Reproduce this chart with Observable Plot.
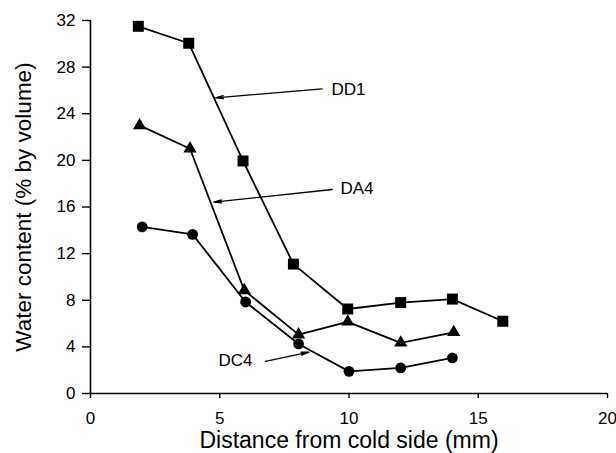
<!DOCTYPE html>
<html>
<head>
<meta charset="utf-8">
<script src="https://cdn.jsdelivr.net/npm/d3@7"></script>
<script src="https://cdn.jsdelivr.net/npm/@observablehq/plot@0.6"></script>
<style>
  html, body { margin: 0; padding: 0; background: #fff; }
  #chart { width: 616px; height: 453px; }
</style>
</head>
<body>
<div id="chart"></div>
<script>
// ---- data ----
const xTicks = [0, 5, 10, 15, 20];
const yTicks = [0, 4, 8, 12, 16, 20, 24, 28, 32];

const dd1X = [1.85, 3.8, 5.9, 7.85, 9.95, 12.0, 14.0, 15.95];
const dd1Y = [31.5, 30.05, 19.95, 11.1, 7.25, 7.8, 8.1, 6.2];

const da4X = [1.9, 3.85, 5.95, 8.05, 9.95, 12.0, 14.05];
const da4Y = [23.0, 21.0, 8.85, 5.05, 6.15, 4.35, 5.25];

const dc4X = [2.0, 3.95, 6.0, 8.05, 10.0, 12.0, 14.0];
const dc4Y = [14.3, 13.65, 7.85, 4.25, 1.9, 2.2, 3.05];

const labels = ["DD1", "DA4", "DC4"];
const labelX = [9.32, 9.67, 6.27];
const labelY = [26.07, 17.58, 2.83];
const labelAnchor = ["start", "start", "end"];
const arrowX1 = [8.96, 9.35, 6.77];
const arrowY1 = [26.14, 17.5, 2.75];
const arrowX2 = [4.84, 4.77, 8.45];
const arrowY2 = [25.37, 16.41, 3.55];

const xLabel = "Distance from cold side (mm)";
const yLabel = "Water content (% by volume)";

// ---- tables built from the arrays ----
const toRows = (xs, ys, s) => xs.map((x, i) => ({x, y: ys[i], series: s}));
const dd1 = toRows(dd1X, dd1Y, "DD1");
const da4 = toRows(da4X, da4Y, "DA4");
const dc4 = toRows(dc4X, dc4Y, "DC4");
const notes = labels.map((t, i) => ({
  t, x: labelX[i], y: labelY[i], anchor: labelAnchor[i],
  x1: arrowX1[i], y1: arrowY1[i], x2: arrowX2[i], y2: arrowY2[i]
}));

const font = "'Liberation Sans', Arial, Helvetica, sans-serif";

const chart = Plot.plot({
  width: 616,
  height: 453,
  marginLeft: 90,
  marginRight: 9,
  marginTop: 20,
  marginBottom: 60,
  style: { fontFamily: font, fontSize: "17px", color: "black", background: "white" },
  x: { domain: [0, 20] },
  y: { domain: [0, 32] },
  marks: [
    Plot.axisX({ ticks: xTicks, tickSize: 5, tickPadding: 13, fontSize: 17, label: null, strokeWidth: 1.4 }),
    Plot.axisY({ ticks: yTicks, tickSize: 8, tickPadding: 7, fontSize: 17, label: null, strokeWidth: 1.4 }),
    Plot.ruleY([0], { stroke: "black", strokeWidth: 1.6 }),
    Plot.ruleX([0], { stroke: "black", strokeWidth: 1.6 }),
    Plot.text([xLabel], { frameAnchor: "bottom", dy: 47, fontSize: 23, fill: "black", textAnchor: "middle", lineAnchor: "middle" }),
    Plot.text([yLabel], { frameAnchor: "left", dx: -67, rotate: -90, fontSize: 22.5, fill: "black", textAnchor: "middle", lineAnchor: "middle" }),
    Plot.line(dd1, { x: "x", y: "y", stroke: "black", strokeWidth: 1.8 }),
    Plot.line(da4, { x: "x", y: "y", stroke: "black", strokeWidth: 1.8 }),
    Plot.line(dc4, { x: "x", y: "y", stroke: "black", strokeWidth: 1.8 }),
    Plot.dot(dd1, { x: "x", y: "y", symbol: "square", r: 6.2, fill: "black" }),
    Plot.dot(da4, { x: "x", y: "y", symbol: "triangle", r: 4.9, fill: "black" }),
    Plot.dot(dc4, { x: "x", y: "y", symbol: "circle", r: 5.4, fill: "black" }),
    Plot.arrow(notes, { x1: "x1", y1: "y1", x2: "x2", y2: "y2", stroke: "black", strokeWidth: 1.3, headLength: 9, headAngle: 22 }),
    Plot.text(notes, { filter: d => d.anchor === "start", x: "x", y: "y", text: "t", textAnchor: "start", fontSize: 17, fill: "black", lineAnchor: "middle" }),
    Plot.text(notes, { filter: d => d.anchor === "end", x: "x", y: "y", text: "t", textAnchor: "end", fontSize: 17, fill: "black", lineAnchor: "middle" })
  ]
});
document.getElementById("chart").appendChild(chart);
</script>
</body>
</html>
